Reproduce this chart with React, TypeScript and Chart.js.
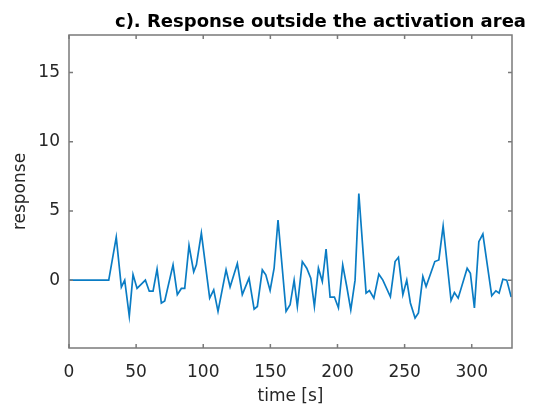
import React, { useEffect, useRef } from "react";
import { Chart, registerables } from "chart.js";

Chart.register(...registerables);

const TITLE = "c). Response outside the activation area";
const X_LABEL = "time [s]";
const Y_LABEL = "response";
const X_TICKS = [0, 50, 100, 150, 200, 250, 300];
const Y_TICKS = [0, 5, 10, 15];

const TIME = [0, 29.6, 35.2, 39.0, 41.5, 44.9, 47.7, 50.7, 56.9, 59.8, 62.6, 65.6, 68.8, 71.3, 77.5, 80.7, 83.7, 86.2, 89.4, 92.9, 94.9, 98.6, 104.8, 107.8, 111.0, 117.0, 120.0, 125.4, 129.1, 134.1, 137.9, 140.3, 144.0, 146.6, 149.8, 152.8, 155.7, 161.7, 164.7, 167.7, 170.1, 173.8, 177.1, 180.1, 182.8, 185.8, 188.7, 191.5, 194.5, 197.7, 200.7, 203.9, 206.9, 209.9, 213.1, 215.9, 221.3, 223.8, 227.1, 230.8, 233.8, 239.4, 242.9, 245.4, 248.7, 251.6, 254.3, 257.8, 260.3, 263.6, 266.0, 272.5, 275.5, 278.7, 284.6, 287.1, 289.9, 296.6, 299.0, 302.0, 305.3, 308.3, 314.9, 318.0, 320.4, 323.2, 326.1, 329.4];

const RESPONSE = [0, 0, 3.1, -0.5, 0, -2.6, 0.4, -0.6, 0, -0.8, -0.8, 0.8, -1.65, -1.5, 1.1, -1.05, -0.6, -0.6, 2.5, 0.6, 1.1, 3.4, -1.3, -0.7, -2.25, 0.74, -0.5, 1.2, -1.05, 0.14, -2.1, -1.9, 0.74, 0.38, -0.75, 0.86, 4.34, -2.26, -1.78, 0, -1.9, 1.34, 0.86, 0.14, -1.9, 0.86, -0.1, 2.25, -1.22, -1.22, -2.0, 1.1, -0.46, -2.14, 0, 6.26, -0.94, -0.75, -1.3, 0.43, 0, -1.2, 1.34, 1.65, -1.06, 0, -1.65, -2.73, -2.37, 0.26, -0.46, 1.34, 1.46, 3.9, -1.47, -0.9, -1.3, 0.86, 0.5, -2.0, 2.78, 3.33, -1.13, -0.77, -0.94, 0.07, 0, -1.22];

const FONT_FAMILY = '"DejaVu Sans", sans-serif';
const TEXT_COLOR = "#262626";
const AXIS_COLOR = "#7a7a7a";
const LINE_COLOR = "#0a7cc4";

const framePlugin = {
  id: "matlabFrame",
  afterDraw(chart: any) {
    const { ctx, chartArea: a, scales } = chart;
    ctx.save();
    ctx.strokeStyle = AXIS_COLOR;
    ctx.lineWidth = 1.5;
    ctx.strokeRect(a.left, a.top, a.right - a.left, a.bottom - a.top);
    const len = 4;
    ctx.beginPath();
    X_TICKS.forEach((v) => {
      const px = scales.x.getPixelForValue(v);
      ctx.moveTo(px, a.bottom);
      ctx.lineTo(px, a.bottom - len);
      ctx.moveTo(px, a.top);
      ctx.lineTo(px, a.top + len);
    });
    Y_TICKS.forEach((v) => {
      const py = scales.y.getPixelForValue(v);
      ctx.moveTo(a.left, py);
      ctx.lineTo(a.left + len, py);
      ctx.moveTo(a.right, py);
      ctx.lineTo(a.right - len, py);
    });
    ctx.stroke();
    ctx.font = `bold 18px ${FONT_FAMILY}`;
    ctx.fillStyle = "#000";
    ctx.textAlign = "right";
    ctx.textBaseline = "alphabetic";
    ctx.fillText(TITLE, chart.width - 8, a.top - 8);
    ctx.restore();
  },
};

export default function App() {
  const ref = useRef<HTMLCanvasElement | null>(null);

  useEffect(() => {
    if (!ref.current) return;
    const font = { family: FONT_FAMILY, size: 17 };
    const chart = new Chart(ref.current, {
      type: "line",
      data: {
        datasets: [
          {
            data: TIME.map((t, i) => ({ x: t, y: RESPONSE[i] })),
            borderColor: LINE_COLOR,
            borderWidth: 1.7,
            pointRadius: 0,
            tension: 0,
            fill: false,
          },
        ],
      },
      options: {
        animation: false,
        responsive: false,
        maintainAspectRatio: false,
        layout: { padding: { top: 27, right: 22, left: 0, bottom: 0 } },
        plugins: {
          legend: { display: false },
          title: { display: false },
          tooltip: { enabled: false },
        },
        scales: {
          x: {
            type: "linear",
            min: 0,
            max: 330,
            grid: { display: false, drawTicks: false },
            border: { display: false },
            ticks: { font, color: TEXT_COLOR, padding: 14, maxRotation: 0, autoSkip: false },
            title: { display: true, text: X_LABEL, font: { ...font, lineHeight: 1 }, color: TEXT_COLOR, padding: 0 },
            afterBuildTicks: (s: any) => {
              s.ticks = X_TICKS.map((v) => ({ value: v }));
            },
            afterFit: (s: any) => {
              s.height = 57;
            },
          },
          y: {
            type: "linear",
            min: -4.9,
            max: 17.7,
            grid: { display: false, drawTicks: false },
            border: { display: false },
            ticks: { font, color: TEXT_COLOR, padding: 9 },
            title: { display: true, text: Y_LABEL, font: { ...font, lineHeight: 1 }, color: TEXT_COLOR, padding: { top: 4, bottom: 0 } },
            afterBuildTicks: (s: any) => {
              s.ticks = Y_TICKS.map((v) => ({ value: v }));
            },
            afterFit: (s: any) => {
              s.width = 61;
            },
          },
        },
      },
      plugins: [framePlugin],
    });
    return () => chart.destroy();
  }, []);

  return <canvas ref={ref} width={526} height={397} style={{ display: "block" }} />;
}
